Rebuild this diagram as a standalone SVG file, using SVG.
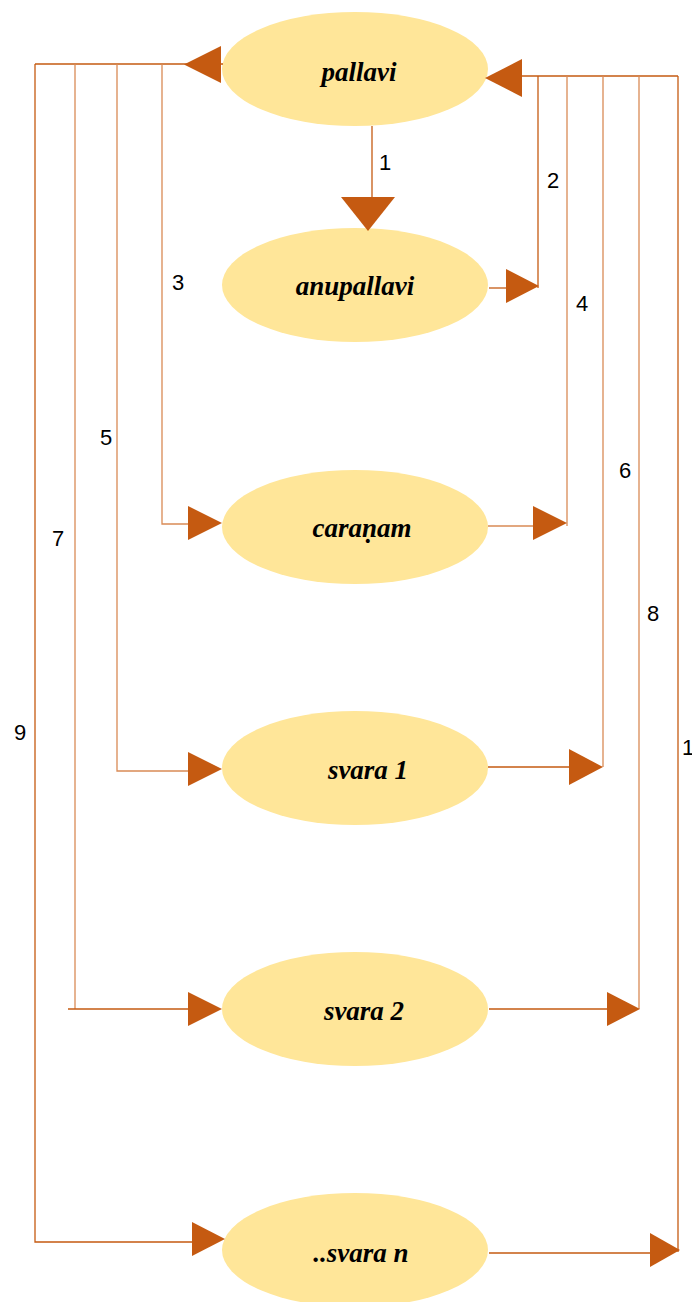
<svg xmlns="http://www.w3.org/2000/svg" width="692" height="1302" viewBox="0 0 692 1302">
  <style>
    .node ellipse { fill: #FFE699; }
    .node text { font-family: "Liberation Serif", "Times New Roman", serif; font-weight: bold; font-style: italic; font-size: 27px; fill: #000; text-anchor: middle; }
    .wire { fill: none; stroke: #C55A11; stroke-width: 1.3; }
    .wire.soft { stroke: #D98A55; }
    .head { fill: #C55A11; stroke: none; }
    .num { font-family: "Liberation Sans", Arial, sans-serif; font-size: 22px; fill: #000; text-anchor: middle; }
  </style>

  <!-- nodes -->
  <g id="pallavi" class="node">
    <ellipse cx="355" cy="69" rx="133" ry="57"/>
    <text x="359" y="81">pallavi</text>
  </g>
  <g id="anupallavi" class="node">
    <ellipse cx="355" cy="285" rx="133" ry="57"/>
    <text x="355" y="295">anupallavi</text>
  </g>
  <g id="caranam" class="node">
    <ellipse cx="355" cy="527" rx="133" ry="57"/>
    <text x="362" y="537">caraṇam</text>
  </g>
  <g id="svara1" class="node">
    <ellipse cx="355" cy="768" rx="133" ry="57"/>
    <text x="368" y="779">svara 1</text>
  </g>
  <g id="svara2" class="node">
    <ellipse cx="355" cy="1009" rx="133" ry="57"/>
    <text x="364" y="1020">svara 2</text>
  </g>
  <g id="svaran" class="node">
    <ellipse cx="355" cy="1250" rx="133" ry="57"/>
    <text x="361" y="1262">..svara n</text>
  </g>

  <!-- connectors -->
  <g id="connectors">
    <!-- 1: pallavi to anupallavi -->
    <path class="wire" d="M372,126 V199"/>
    <polygon class="head" points="341,197 395,197 368,231"/>

    <!-- left trunk leaving pallavi -->
    <path class="wire" d="M35,64 H223"/>
    <polygon class="head" points="184,64.5 221,46 221,83"/>

    <!-- 3: to caranam -->
    <path class="wire soft" d="M162,64 V524 H190"/>
    <polygon class="head" points="188,506 222,523 188,540"/>

    <!-- 5: to svara 1 -->
    <path class="wire soft" d="M117,64 V771 H190"/>
    <polygon class="head" points="188,752 222,769 188,786"/>

    <!-- 7: to svara 2 -->
    <path class="wire soft" d="M75,64 V1009"/>
    <path class="wire" d="M68,1009 H190"/>
    <polygon class="head" points="188,992 222,1009 188,1026"/>

    <!-- 9: to ..svara n -->
    <path class="wire" d="M35,64 V1242 H194"/>
    <polygon class="head" points="192,1222 225,1239 192,1256"/>

    <!-- right trunk returning to pallavi -->
    <path class="wire" d="M520,76 H678"/>
    <polygon class="head" points="485,78 522,59 522,97"/>

    <!-- 2: from anupallavi -->
    <path class="wire" d="M489,288 H508"/>
    <path class="wire" d="M538,76 V288"/>
    <polygon class="head" points="506,269 539,286 506,303"/>

    <!-- 4: from caranam -->
    <path class="wire soft" d="M488,526 H535"/>
    <path class="wire soft" d="M567,76 V526"/>
    <polygon class="head" points="533,506 567,523 533,540"/>

    <!-- 6: from svara 1 -->
    <path class="wire" d="M488,767 H571"/>
    <path class="wire soft" d="M603,76 V767"/>
    <polygon class="head" points="569,749 603,767 569,785"/>

    <!-- 8: from svara 2 -->
    <path class="wire" d="M489,1009 H609"/>
    <path class="wire soft" d="M639,76 V1009"/>
    <polygon class="head" points="607,992 640,1009 607,1026"/>

    <!-- 10: from ..svara n -->
    <path class="wire" d="M489,1253 H652"/>
    <path class="wire" d="M678,76 V1252"/>
    <polygon class="head" points="650,1233 680,1250 650,1267"/>
  </g>

  <!-- connector numbers -->
  <g id="labels">
    <text class="num" x="385" y="170">1</text>
    <text class="num" x="553" y="188">2</text>
    <text class="num" x="178" y="290">3</text>
    <text class="num" x="582" y="311">4</text>
    <text class="num" x="106" y="445">5</text>
    <text class="num" x="625" y="478">6</text>
    <text class="num" x="58" y="546">7</text>
    <text class="num" x="653" y="621">8</text>
    <text class="num" x="20" y="740">9</text>
    <text class="num" x="688" y="755">1</text>
  </g>
</svg>
